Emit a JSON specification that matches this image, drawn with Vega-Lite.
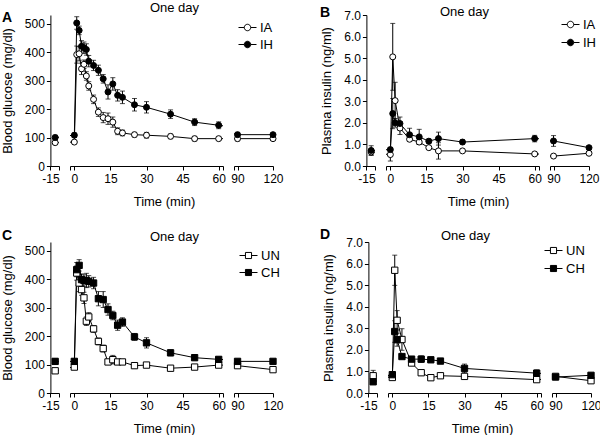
{
  "$schema": "https://vega.github.io/schema/vega-lite/v6.json",
  "padding": {"left": 1, "top": 1, "right": 0, "bottom": 0},
  "background": "white",
  "config": {
    "view": {"stroke": null},
    "font": "Liberation Sans",
    "axis": {"labelFontSize": 12, "titleFontSize": 13, "titleFontWeight": "normal", "tickSize": 4, "labelPadding": 3, "domainColor": "black", "tickColor": "black", "labelColor": "black", "titleColor": "black", "grid": false, "labelFlush": false, "labelOverlap": false},
    "title": {"fontSize": 13, "fontWeight": "normal", "color": "black"},
    "legend": {"labelFontSize": 13, "labelColor": "black", "rowPadding": 0, "labelOffset": 3, "symbolStrokeColor": "black", "symbolStrokeWidth": 1, "symbolSize": 324, "title": null}
  },
  "datasets": {
    "A": [
      {"g":"IA","t":-13,"v":82,"e":5},{"g":"IA","t":0,"v":84,"e":5},{"g":"IA","t":1,"v":391,"e":30},{"g":"IA","t":2,"v":394,"e":25},{"g":"IA","t":3,"v":341,"e":20},{"g":"IA","t":4,"v":357,"e":15},{"g":"IA","t":5,"v":316,"e":15},{"g":"IA","t":6,"v":281,"e":15},{"g":"IA","t":8,"v":234,"e":15},{"g":"IA","t":10,"v":189,"e":15},{"g":"IA","t":12,"v":170,"e":18},{"g":"IA","t":14,"v":166,"e":20},{"g":"IA","t":16,"v":154,"e":18},{"g":"IA","t":18,"v":122,"e":12},{"g":"IA","t":20,"v":116,"e":10},{"g":"IA","t":25,"v":110,"e":8},{"g":"IA","t":30,"v":108,"e":10},{"g":"IA","t":40,"v":104,"e":8},{"g":"IA","t":50,"v":96,"e":8},{"g":"IA","t":60,"v":96,"e":6},{"g":"IA","t":90,"v":96,"e":8},{"g":"IA","t":120,"v":96,"e":6},
      {"g":"IH","t":-13,"v":100,"e":8},{"g":"IH","t":0,"v":108,"e":8},{"g":"IH","t":1,"v":502,"e":22},{"g":"IH","t":2,"v":476,"e":15},{"g":"IH","t":3,"v":420,"e":20},{"g":"IH","t":4,"v":415,"e":20},{"g":"IH","t":5,"v":409,"e":20},{"g":"IH","t":6,"v":368,"e":20},{"g":"IH","t":8,"v":353,"e":18},{"g":"IH","t":10,"v":336,"e":18},{"g":"IH","t":12,"v":306,"e":15},{"g":"IH","t":14,"v":260,"e":25},{"g":"IH","t":16,"v":288,"e":22},{"g":"IH","t":18,"v":248,"e":20},{"g":"IH","t":20,"v":241,"e":22},{"g":"IH","t":25,"v":215,"e":22},{"g":"IH","t":30,"v":206,"e":20},{"g":"IH","t":40,"v":182,"e":15},{"g":"IH","t":50,"v":154,"e":12},{"g":"IH","t":60,"v":143,"e":12},{"g":"IH","t":90,"v":110,"e":8},{"g":"IH","t":120,"v":110,"e":6}
    ],
    "B": [
      {"g":"IA","t":-13,"v":0.65,"e":0.15},{"g":"IA","t":0,"v":0.53,"e":0.3},{"g":"IA","t":1,"v":5.06,"e":1.55},{"g":"IA","t":2,"v":3.03,"e":0.85},{"g":"IA","t":4,"v":1.76,"e":0.3},{"g":"IA","t":8,"v":1.24,"e":0.1},{"g":"IA","t":12,"v":1.11,"e":0.1},{"g":"IA","t":16,"v":0.85,"e":0.05},{"g":"IA","t":20,"v":0.7,"e":0.38},{"g":"IA","t":30,"v":0.7,"e":0.05},{"g":"IA","t":60,"v":0.56,"e":0.05},{"g":"IA","t":90,"v":0.46,"e":0.05},{"g":"IA","t":120,"v":0.59,"e":0.05},
      {"g":"IH","t":-13,"v":0.72,"e":0.22},{"g":"IH","t":0,"v":0.76,"e":0.1},{"g":"IH","t":1,"v":2.43,"e":0.7},{"g":"IH","t":2,"v":2.0,"e":0.2},{"g":"IH","t":4,"v":1.97,"e":0.3},{"g":"IH","t":8,"v":1.45,"e":0.3},{"g":"IH","t":12,"v":1.35,"e":0.35},{"g":"IH","t":16,"v":1.15,"e":0.1},{"g":"IH","t":20,"v":1.27,"e":0.3},{"g":"IH","t":30,"v":1.11,"e":0.1},{"g":"IH","t":60,"v":1.27,"e":0.15},{"g":"IH","t":90,"v":1.16,"e":0.25},{"g":"IH","t":120,"v":0.85,"e":0.08}
    ],
    "C": [
      {"g":"UN","t":-13,"v":78,"e":5},{"g":"UN","t":0,"v":91,"e":5},{"g":"UN","t":1,"v":421,"e":25},{"g":"UN","t":2,"v":386,"e":30},{"g":"UN","t":3,"v":363,"e":20},{"g":"UN","t":4,"v":334,"e":20},{"g":"UN","t":5,"v":252,"e":15},{"g":"UN","t":6,"v":267,"e":15},{"g":"UN","t":8,"v":225,"e":12},{"g":"UN","t":10,"v":181,"e":12},{"g":"UN","t":12,"v":156,"e":12},{"g":"UN","t":14,"v":109,"e":8},{"g":"UN","t":16,"v":117,"e":15},{"g":"UN","t":18,"v":109,"e":8},{"g":"UN","t":20,"v":109,"e":6},{"g":"UN","t":25,"v":96,"e":8},{"g":"UN","t":30,"v":98,"e":6},{"g":"UN","t":40,"v":87,"e":5},{"g":"UN","t":50,"v":91,"e":5},{"g":"UN","t":60,"v":98,"e":5},{"g":"UN","t":90,"v":96,"e":5},{"g":"UN","t":120,"v":82,"e":5},
      {"g":"CH","t":-13,"v":111,"e":10},{"g":"CH","t":0,"v":111,"e":8},{"g":"CH","t":1,"v":433,"e":25},{"g":"CH","t":2,"v":448,"e":20},{"g":"CH","t":3,"v":398,"e":20},{"g":"CH","t":4,"v":395,"e":20},{"g":"CH","t":5,"v":395,"e":25},{"g":"CH","t":6,"v":392,"e":20},{"g":"CH","t":8,"v":386,"e":20},{"g":"CH","t":10,"v":331,"e":25},{"g":"CH","t":12,"v":328,"e":28},{"g":"CH","t":14,"v":293,"e":20},{"g":"CH","t":16,"v":272,"e":15},{"g":"CH","t":18,"v":238,"e":18},{"g":"CH","t":20,"v":249,"e":15},{"g":"CH","t":25,"v":197,"e":12},{"g":"CH","t":30,"v":176,"e":18},{"g":"CH","t":40,"v":141,"e":10},{"g":"CH","t":50,"v":124,"e":8},{"g":"CH","t":60,"v":118,"e":8},{"g":"CH","t":90,"v":111,"e":6},{"g":"CH","t":120,"v":111,"e":5}
    ],
    "D": [
      {"g":"UN","t":-13,"v":0.8,"e":0.25},{"g":"UN","t":0,"v":0.72,"e":0.05},{"g":"UN","t":1,"v":5.69,"e":0.7},{"g":"UN","t":2,"v":3.37,"e":0.45},{"g":"UN","t":4,"v":2.48,"e":0.5},{"g":"UN","t":8,"v":1.39,"e":0.1},{"g":"UN","t":12,"v":0.94,"e":0.1},{"g":"UN","t":16,"v":0.71,"e":0.05},{"g":"UN","t":20,"v":0.8,"e":0.1},{"g":"UN","t":30,"v":0.77,"e":0.1},{"g":"UN","t":60,"v":0.62,"e":0.08},{"g":"UN","t":90,"v":0.77,"e":0.05},{"g":"UN","t":120,"v":0.57,"e":0.05},
      {"g":"CH","t":-13,"v":0.52,"e":0.1},{"g":"CH","t":0,"v":0.85,"e":0.05},{"g":"CH","t":1,"v":2.85,"e":0.5},{"g":"CH","t":2,"v":2.47,"e":0.3},{"g":"CH","t":4,"v":1.69,"e":0.1},{"g":"CH","t":8,"v":1.57,"e":0.1},{"g":"CH","t":12,"v":1.57,"e":0.15},{"g":"CH","t":16,"v":1.54,"e":0.1},{"g":"CH","t":20,"v":1.48,"e":0.08},{"g":"CH","t":30,"v":1.14,"e":0.2},{"g":"CH","t":60,"v":0.92,"e":0.15},{"g":"CH","t":90,"v":0.74,"e":0.08},{"g":"CH","t":120,"v":0.82,"e":0.05}
    ]
  },
  "resolve": {"scale": {"x": "independent", "y": "independent", "fill": "independent"}, "legend": {"fill": "independent"}},
  "spacing": 20,
  "vconcat": [
    {
      "spacing": 36,
      "resolve": {"scale": {"x": "independent", "y": "independent", "fill": "independent"}, "legend": {"fill": "independent"}},
      "hconcat": [
        {
          "bounds": "flush", "spacing": 11,
          "resolve": {"scale": {"x": "independent", "y": "independent", "fill": "independent"}, "legend": {"fill": "independent"}},
          "hconcat": [
            {
              "width": 11, "height": 151, "data": {"name": "A"},
              "title": {"text": "A", "anchor": "start", "frame": "group", "fontSize": 14, "fontWeight": "bold", "baseline": "alphabetic", "offset": -21, "dx": -46},
              "encoding": {
                "x": {"field": "t", "type": "quantitative", "scale": {"domain": [-16, -11.4], "nice": false, "zero": false}, "axis": {"values": [-15, -11.4], "labelExpr": "datum.value < -14 ? '-15' : ''", "title": null, "labelFlush": false}},
                "y": {"field": "v", "type": "quantitative", "scale": {"domain": [0, 530], "nice": false, "zero": false}, "axis": {"values": [0, 100, 200, 300, 400, 500], "title": "Blood glucose (mg/dl)", "offset": -2.4, "labelPadding": 2, "titlePadding": 10}}
              },
              "layer": [
                {"mark": {"type": "line", "color": "black", "strokeWidth": 1, "clip": true}, "encoding": {"detail": {"field": "g"}}},
                {"transform": [{"filter": {"field": "t", "range": [-16, -11.4]}}], "mark": {"type": "errorbar", "color": "black", "ticks": {"size": 5}, "clip": true}, "encoding": {"yError": {"field": "e"}}},
                {"transform": [{"filter": {"field": "t", "range": [-16, -11.4]}}], "mark": {"type": "point", "shape": "circle", "filled": true, "stroke": "black", "strokeWidth": 1, "size": 36, "opacity": 1}, "encoding": {"fill": {"field": "g", "type": "nominal", "scale": {"domain": ["IA", "IH"], "range": ["white", "black"]}, "legend": null}}}
              ]
            },
            {
              "width": 153, "height": 151, "data": {"name": "A"},
              "title": {"text": "One day", "anchor": "middle", "frame": "group", "baseline": "alphabetic", "offset": -9.5, "dx": 28},
              "encoding": {
                "x": {"field": "t", "type": "quantitative", "scale": {"domain": [-1.8, 61.8], "nice": false, "zero": false}, "axis": {"values": [-1.8, 0, 15, 30, 45, 60, 61.8], "labelExpr": "datum.value < -1 || datum.value > 61 ? '' : datum.label", "title": "Time (min)", "titleX": 94, "titlePadding": 11, "labelFlush": false}},
                "y": {"field": "v", "type": "quantitative", "scale": {"domain": [0, 530], "nice": false, "zero": false}, "axis": null}
              },
              "layer": [
                {"mark": {"type": "line", "color": "black", "strokeWidth": 1, "clip": true}, "encoding": {"detail": {"field": "g"}}},
                {"transform": [{"filter": {"field": "t", "range": [-1.8, 61.8]}}], "mark": {"type": "errorbar", "color": "black", "ticks": {"size": 5}, "clip": true}, "encoding": {"yError": {"field": "e"}}},
                {"transform": [{"filter": {"field": "t", "range": [-1.8, 61.8]}}], "mark": {"type": "point", "shape": "circle", "filled": true, "stroke": "black", "strokeWidth": 1, "size": 36, "opacity": 1}, "encoding": {"fill": {"field": "g", "type": "nominal", "scale": {"domain": ["IA", "IH"], "range": ["white", "black"]}, "legend": null}}}
              ]
            },
            {
              "width": 39, "height": 151, "data": {"name": "A"},
              "encoding": {
                "x": {"field": "t", "type": "quantitative", "scale": {"domain": [87, 120], "nice": false, "zero": false}, "axis": {"values": [87, 90, 120], "labelExpr": "datum.value < 89 ? '' : datum.label", "title": null, "labelFlush": false}},
                "y": {"field": "v", "type": "quantitative", "scale": {"domain": [0, 530], "nice": false, "zero": false}, "axis": null}
              },
              "layer": [
                {"mark": {"type": "line", "color": "black", "strokeWidth": 1, "clip": true}, "encoding": {"detail": {"field": "g"}}},
                {"transform": [{"filter": {"field": "t", "range": [87, 120]}}], "mark": {"type": "errorbar", "color": "black", "ticks": {"size": 5}, "clip": true}, "encoding": {"yError": {"field": "e"}}},
                {"transform": [{"filter": {"field": "t", "range": [87, 120]}}], "mark": {"type": "point", "shape": "circle", "filled": true, "stroke": "black", "strokeWidth": 1, "size": 36, "opacity": 1}, "encoding": {"fill": {"field": "g", "type": "nominal", "scale": {"domain": ["IA", "IH"], "range": ["white", "black"]}, "legend": {"orient": "none", "legendX": 4, "legendY": 3, "symbolType": "M-1,0H-0.36M0.36,0H1M0.36,0A0.36,0.36 0 1 1 -0.36,0A0.36,0.36 0 1 1 0.36,0"}}}}
              ]
            }
          ]
        },
        {
          "bounds": "flush", "spacing": 11,
          "resolve": {"scale": {"x": "independent", "y": "independent", "fill": "independent"}, "legend": {"fill": "independent"}},
          "hconcat": [
            {
              "width": 11, "height": 151, "data": {"name": "B"},
              "title": {"text": "B", "anchor": "start", "frame": "group", "fontSize": 14, "fontWeight": "bold", "baseline": "alphabetic", "offset": -22, "dx": -44},
              "encoding": {
                "x": {"field": "t", "type": "quantitative", "scale": {"domain": [-16, -11.4], "nice": false, "zero": false}, "axis": {"values": [-15, -11.4], "labelExpr": "datum.value < -14 ? '-15' : ''", "title": null, "labelFlush": false}},
                "y": {"field": "v", "type": "quantitative", "scale": {"domain": [0, 7], "nice": false, "zero": false}, "axis": {"values": [0, 1, 2, 3, 4, 5, 6, 7], "format": ".1f", "title": "Plasma insulin (ng/ml)", "offset": -2.4, "labelPadding": 2, "titlePadding": 10}}
              },
              "layer": [
                {"mark": {"type": "line", "color": "black", "strokeWidth": 1, "clip": true}, "encoding": {"detail": {"field": "g"}}},
                {"transform": [{"filter": {"field": "t", "range": [-16, -11.4]}}], "mark": {"type": "errorbar", "color": "black", "ticks": {"size": 5}, "clip": true}, "encoding": {"yError": {"field": "e"}}},
                {"transform": [{"filter": {"field": "t", "range": [-16, -11.4]}}], "mark": {"type": "point", "shape": "circle", "filled": true, "stroke": "black", "strokeWidth": 1, "size": 36, "opacity": 1}, "encoding": {"fill": {"field": "g", "type": "nominal", "scale": {"domain": ["IA", "IH"], "range": ["white", "black"]}, "legend": null}}}
              ]
            },
            {
              "width": 153, "height": 151, "data": {"name": "B"},
              "title": {"text": "One day", "anchor": "middle", "frame": "group", "baseline": "alphabetic", "offset": -14, "dx": 2},
              "encoding": {
                "x": {"field": "t", "type": "quantitative", "scale": {"domain": [-1.8, 61.8], "nice": false, "zero": false}, "axis": {"values": [-1.8, 0, 15, 30, 45, 60, 61.8], "labelExpr": "datum.value < -1 || datum.value > 61 ? '' : datum.label", "title": "Time (min)", "titleX": 92, "titlePadding": 11, "labelFlush": false}},
                "y": {"field": "v", "type": "quantitative", "scale": {"domain": [0, 7], "nice": false, "zero": false}, "axis": null}
              },
              "layer": [
                {"mark": {"type": "line", "color": "black", "strokeWidth": 1, "clip": true}, "encoding": {"detail": {"field": "g"}}},
                {"transform": [{"filter": {"field": "t", "range": [-1.8, 61.8]}}], "mark": {"type": "errorbar", "color": "black", "ticks": {"size": 5}, "clip": true}, "encoding": {"yError": {"field": "e"}}},
                {"transform": [{"filter": {"field": "t", "range": [-1.8, 61.8]}}], "mark": {"type": "point", "shape": "circle", "filled": true, "stroke": "black", "strokeWidth": 1, "size": 36, "opacity": 1}, "encoding": {"fill": {"field": "g", "type": "nominal", "scale": {"domain": ["IA", "IH"], "range": ["white", "black"]}, "legend": null}}}
              ]
            },
            {
              "width": 39, "height": 151, "data": {"name": "B"},
              "encoding": {
                "x": {"field": "t", "type": "quantitative", "scale": {"domain": [87, 120], "nice": false, "zero": false}, "axis": {"values": [87, 90, 120], "labelExpr": "datum.value < 89 ? '' : datum.label", "title": null, "labelFlush": false}},
                "y": {"field": "v", "type": "quantitative", "scale": {"domain": [0, 7], "nice": false, "zero": false}, "axis": null}
              },
              "layer": [
                {"mark": {"type": "line", "color": "black", "strokeWidth": 1, "clip": true}, "encoding": {"detail": {"field": "g"}}},
                {"transform": [{"filter": {"field": "t", "range": [87, 120]}}], "mark": {"type": "errorbar", "color": "black", "ticks": {"size": 5}, "clip": true}, "encoding": {"yError": {"field": "e"}}},
                {"transform": [{"filter": {"field": "t", "range": [87, 120]}}], "mark": {"type": "point", "shape": "circle", "filled": true, "stroke": "black", "strokeWidth": 1, "size": 36, "opacity": 1}, "encoding": {"fill": {"field": "g", "type": "nominal", "scale": {"domain": ["IA", "IH"], "range": ["white", "black"]}, "legend": {"orient": "none", "legendX": 11, "legendY": 0, "rowPadding": 1, "symbolType": "M-1,0H-0.36M0.36,0H1M0.36,0A0.36,0.36 0 1 1 -0.36,0A0.36,0.36 0 1 1 0.36,0"}}}}
              ]
            }
          ]
        }
      ]
    },
    {
      "spacing": 36,
      "resolve": {"scale": {"x": "independent", "y": "independent", "fill": "independent"}, "legend": {"fill": "independent"}},
      "hconcat": [
        {
          "bounds": "flush", "spacing": 11,
          "resolve": {"scale": {"x": "independent", "y": "independent", "fill": "independent"}, "legend": {"fill": "independent"}},
          "hconcat": [
            {
              "width": 11, "height": 151, "data": {"name": "C"},
              "title": {"text": "C", "anchor": "start", "frame": "group", "fontSize": 14, "fontWeight": "bold", "baseline": "alphabetic", "offset": -12, "dx": -46},
              "encoding": {
                "x": {"field": "t", "type": "quantitative", "scale": {"domain": [-16, -11.4], "nice": false, "zero": false}, "axis": {"values": [-15, -11.4], "labelExpr": "datum.value < -14 ? '-15' : ''", "title": null, "labelFlush": false}},
                "y": {"field": "v", "type": "quantitative", "scale": {"domain": [0, 530], "nice": false, "zero": false}, "axis": {"values": [0, 100, 200, 300, 400, 500], "title": "Blood glucose (mg/dl)", "offset": -2.4, "labelPadding": 2, "titlePadding": 10}}
              },
              "layer": [
                {"mark": {"type": "line", "color": "black", "strokeWidth": 1, "clip": true}, "encoding": {"detail": {"field": "g"}}},
                {"transform": [{"filter": {"field": "t", "range": [-16, -11.4]}}], "mark": {"type": "errorbar", "color": "black", "ticks": {"size": 5}, "clip": true}, "encoding": {"yError": {"field": "e"}}},
                {"transform": [{"filter": {"field": "t", "range": [-16, -11.4]}}], "mark": {"type": "point", "shape": "square", "filled": true, "stroke": "black", "strokeWidth": 1, "size": 40, "opacity": 1}, "encoding": {"fill": {"field": "g", "type": "nominal", "scale": {"domain": ["UN", "CH"], "range": ["white", "black"]}, "legend": null}}}
              ]
            },
            {
              "width": 153, "height": 151, "data": {"name": "C"},
              "title": {"text": "One day", "anchor": "middle", "frame": "group", "baseline": "alphabetic", "offset": -12, "dx": 28},
              "encoding": {
                "x": {"field": "t", "type": "quantitative", "scale": {"domain": [-1.8, 61.8], "nice": false, "zero": false}, "axis": {"values": [-1.8, 0, 15, 30, 45, 60, 61.8], "labelExpr": "datum.value < -1 || datum.value > 61 ? '' : datum.label", "title": "Time (min)", "titleX": 94, "titlePadding": 11, "labelFlush": false}},
                "y": {"field": "v", "type": "quantitative", "scale": {"domain": [0, 530], "nice": false, "zero": false}, "axis": null}
              },
              "layer": [
                {"mark": {"type": "line", "color": "black", "strokeWidth": 1, "clip": true}, "encoding": {"detail": {"field": "g"}}},
                {"transform": [{"filter": {"field": "t", "range": [-1.8, 61.8]}}], "mark": {"type": "errorbar", "color": "black", "ticks": {"size": 5}, "clip": true}, "encoding": {"yError": {"field": "e"}}},
                {"transform": [{"filter": {"field": "t", "range": [-1.8, 61.8]}}], "mark": {"type": "point", "shape": "square", "filled": true, "stroke": "black", "strokeWidth": 1, "size": 40, "opacity": 1}, "encoding": {"fill": {"field": "g", "type": "nominal", "scale": {"domain": ["UN", "CH"], "range": ["white", "black"]}, "legend": null}}}
              ]
            },
            {
              "width": 39, "height": 151, "data": {"name": "C"},
              "encoding": {
                "x": {"field": "t", "type": "quantitative", "scale": {"domain": [87, 120], "nice": false, "zero": false}, "axis": {"values": [87, 90, 120], "labelExpr": "datum.value < 89 ? '' : datum.label", "title": null, "labelFlush": false}},
                "y": {"field": "v", "type": "quantitative", "scale": {"domain": [0, 530], "nice": false, "zero": false}, "axis": null}
              },
              "layer": [
                {"mark": {"type": "line", "color": "black", "strokeWidth": 1, "clip": true}, "encoding": {"detail": {"field": "g"}}},
                {"transform": [{"filter": {"field": "t", "range": [87, 120]}}], "mark": {"type": "errorbar", "color": "black", "ticks": {"size": 5}, "clip": true}, "encoding": {"yError": {"field": "e"}}},
                {"transform": [{"filter": {"field": "t", "range": [87, 120]}}], "mark": {"type": "point", "shape": "square", "filled": true, "stroke": "black", "strokeWidth": 1, "size": 40, "opacity": 1}, "encoding": {"fill": {"field": "g", "type": "nominal", "scale": {"domain": ["UN", "CH"], "range": ["white", "black"]}, "legend": {"orient": "none", "legendX": 5, "legendY": 4, "symbolType": "M-1,0H-0.34M0.34,0H1M-0.34,-0.34H0.34V0.34H-0.34Z"}}}}
              ]
            }
          ]
        },
        {
          "bounds": "flush", "spacing": 11,
          "resolve": {"scale": {"x": "independent", "y": "independent", "fill": "independent"}, "legend": {"fill": "independent"}},
          "hconcat": [
            {
              "width": 11, "height": 151, "data": {"name": "D"},
              "title": {"text": "D", "anchor": "start", "frame": "group", "fontSize": 14, "fontWeight": "bold", "baseline": "alphabetic", "offset": -17, "dx": -46},
              "encoding": {
                "x": {"field": "t", "type": "quantitative", "scale": {"domain": [-16, -11.4], "nice": false, "zero": false}, "axis": {"values": [-15, -11.4], "labelExpr": "datum.value < -14 ? '-15' : ''", "title": null, "labelFlush": false}},
                "y": {"field": "v", "type": "quantitative", "scale": {"domain": [0, 7], "nice": false, "zero": false}, "axis": {"values": [0, 1, 2, 3, 4, 5, 6, 7], "format": ".1f", "title": "Plasma insulin (ng/ml)", "offset": -2.4, "labelPadding": 2, "titlePadding": 10}}
              },
              "layer": [
                {"mark": {"type": "line", "color": "black", "strokeWidth": 1, "clip": true}, "encoding": {"detail": {"field": "g"}}},
                {"transform": [{"filter": {"field": "t", "range": [-16, -11.4]}}], "mark": {"type": "errorbar", "color": "black", "ticks": {"size": 5}, "clip": true}, "encoding": {"yError": {"field": "e"}}},
                {"transform": [{"filter": {"field": "t", "range": [-16, -11.4]}}], "mark": {"type": "point", "shape": "square", "filled": true, "stroke": "black", "strokeWidth": 1, "size": 40, "opacity": 1}, "encoding": {"fill": {"field": "g", "type": "nominal", "scale": {"domain": ["UN", "CH"], "range": ["white", "black"]}, "legend": null}}}
              ]
            },
            {
              "width": 153, "height": 151, "data": {"name": "D"},
              "title": {"text": "One day", "anchor": "middle", "frame": "group", "baseline": "alphabetic", "offset": -11, "dx": 1},
              "encoding": {
                "x": {"field": "t", "type": "quantitative", "scale": {"domain": [-1.8, 61.8], "nice": false, "zero": false}, "axis": {"values": [-1.8, 0, 15, 30, 45, 60, 61.8], "labelExpr": "datum.value < -1 || datum.value > 61 ? '' : datum.label", "title": "Time (min)", "titleX": 94, "titlePadding": 11, "labelFlush": false}},
                "y": {"field": "v", "type": "quantitative", "scale": {"domain": [0, 7], "nice": false, "zero": false}, "axis": null}
              },
              "layer": [
                {"mark": {"type": "line", "color": "black", "strokeWidth": 1, "clip": true}, "encoding": {"detail": {"field": "g"}}},
                {"transform": [{"filter": {"field": "t", "range": [-1.8, 61.8]}}], "mark": {"type": "errorbar", "color": "black", "ticks": {"size": 5}, "clip": true}, "encoding": {"yError": {"field": "e"}}},
                {"transform": [{"filter": {"field": "t", "range": [-1.8, 61.8]}}], "mark": {"type": "point", "shape": "square", "filled": true, "stroke": "black", "strokeWidth": 1, "size": 40, "opacity": 1}, "encoding": {"fill": {"field": "g", "type": "nominal", "scale": {"domain": ["UN", "CH"], "range": ["white", "black"]}, "legend": null}}}
              ]
            },
            {
              "width": 39, "height": 151, "data": {"name": "D"},
              "encoding": {
                "x": {"field": "t", "type": "quantitative", "scale": {"domain": [87, 120], "nice": false, "zero": false}, "axis": {"values": [87, 90, 120], "labelExpr": "datum.value < 89 ? '' : datum.label", "title": null, "labelFlush": false}},
                "y": {"field": "v", "type": "quantitative", "scale": {"domain": [0, 7], "nice": false, "zero": false}, "axis": null}
              },
              "layer": [
                {"mark": {"type": "line", "color": "black", "strokeWidth": 1, "clip": true}, "encoding": {"detail": {"field": "g"}}},
                {"transform": [{"filter": {"field": "t", "range": [87, 120]}}], "mark": {"type": "errorbar", "color": "black", "ticks": {"size": 5}, "clip": true}, "encoding": {"yError": {"field": "e"}}},
                {"transform": [{"filter": {"field": "t", "range": [87, 120]}}], "mark": {"type": "point", "shape": "square", "filled": true, "stroke": "black", "strokeWidth": 1, "size": 40, "opacity": 1}, "encoding": {"fill": {"field": "g", "type": "nominal", "scale": {"domain": ["UN", "CH"], "range": ["white", "black"]}, "legend": {"orient": "none", "legendX": -8, "legendY": -1, "rowPadding": 1, "symbolType": "M-1,0H-0.34M0.34,0H1M-0.34,-0.34H0.34V0.34H-0.34Z"}}}}
              ]
            }
          ]
        }
      ]
    }
  ]
}
